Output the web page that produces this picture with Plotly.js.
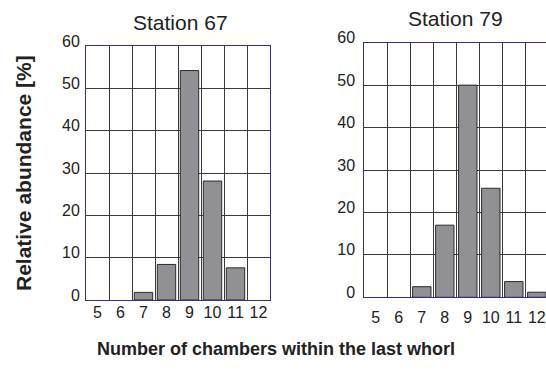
<!DOCTYPE html>
<html>
<head>
<meta charset="utf-8">
<script src="https://cdn.plot.ly/plotly-3.0.1.min.js"></script>
<style>html,body{margin:0;padding:0;background:#fff;}#chart{width:546px;height:374px;}</style>
</head>
<body>
<div id="chart"></div>
<script>
// Data
var chambers = [5, 6, 7, 8, 9, 10, 11, 12];
var station67 = [0, 0, 1.8, 8.4, 54.2, 28.1, 7.6, 0];
var station79 = [0, 0, 2.5, 17.0, 50.0, 25.7, 3.7, 1.2];
var yTicks = [0, 10, 20, 30, 40, 50, 60];
var panelTitles = ["Station 67", "Station 79"];
var yTitle = "Relative abundance [%]";
var xTitle = "Number of chambers within the last whorl";

var W = 546, H = 374;
var FONT = "Liberation Sans, Arial, Helvetica, sans-serif";
var frameColor = "#2e3192";
var gridColor = "#3a3a3a";
var barColor = "#909095";

function px(x) { return x / W; }
function py(y) { return (H - y) / H; }

function barStyle(vals) {
  return {color: barColor, line: {color: "#2a2a2a", width: vals.map(function (v) { return v > 0 ? 1 : 0; })}};
}

var traces = [
  {type: "bar", x: chambers, y: station67, width: 0.8, marker: barStyle(station67), xaxis: "x", yaxis: "y", hoverinfo: "x+y"},
  {type: "bar", x: chambers, y: station79, width: 0.8, marker: barStyle(station79), xaxis: "x2", yaxis: "y2", hoverinfo: "x+y"}
];

function xAxis(domain, range, standoff) {
  return {
    domain: domain, range: range, tickvals: chambers, ticktext: chambers.map(String),
    showgrid: false, zeroline: false, ticks: "", ticklabelstandoff: standoff,
    showline: true, mirror: true, linecolor: frameColor, linewidth: 1,
    tickfont: {family: FONT, size: 16, color: "#222"},
    minor: {tick0: 4.5, dtick: 1, showgrid: true, gridcolor: gridColor, gridwidth: 1, ticks: ""},
    fixedrange: true
  };
}
function yAxis(domain, anchor, standoff) {
  return {
    domain: domain, anchor: anchor, range: [0, 60], tickvals: yTicks,
    showgrid: true, gridcolor: gridColor, gridwidth: 1, zeroline: false, ticks: "",
    showline: true, mirror: true, linecolor: frameColor, linewidth: 1,
    ticklabelstandoff: standoff, ticklabelshift: -5,
    tickfont: {family: FONT, size: 16, color: "#222"},
    fixedrange: true
  };
}

var xa1 = xAxis([px(86), px(270)], [4.5, 12.5], -2); xa1.anchor = "y";
var xa2 = xAxis([px(364.3), 1], [4.5, 12.4], 5); xa2.anchor = "y2";

var layout = {
  width: W, height: H,
  margin: {l: 0, r: 0, t: 0, b: 0},
  paper_bgcolor: "#fff", plot_bgcolor: "#fff",
  showlegend: false, bargap: 0,
  font: {family: FONT, color: "#222"},
  xaxis: xa1,
  yaxis: yAxis([py(300), py(46)], "x", 2),
  xaxis2: xa2,
  yaxis2: yAxis([py(297.3), py(42.7)], "x2", 5),
  annotations: [
    {text: panelTitles[0], x: px(180), y: py(22.5), xref: "paper", yref: "paper", xanchor: "center", yanchor: "middle", showarrow: false, font: {family: FONT, size: 21, color: "#222"}},
    {text: panelTitles[1], x: px(455.5), y: py(18.5), xref: "paper", yref: "paper", xanchor: "center", yanchor: "middle", showarrow: false, font: {family: FONT, size: 21, color: "#222"}},
    {text: yTitle, x: px(24), y: py(173), xref: "paper", yref: "paper", xanchor: "center", yanchor: "middle", textangle: -90, showarrow: false, font: {family: FONT, size: 21, color: "#222", weight: "bold"}},
    {text: xTitle, x: px(276), y: py(349), xref: "paper", yref: "paper", xanchor: "center", yanchor: "middle", showarrow: false, font: {family: FONT, size: 18, color: "#222", weight: "bold"}}
  ]
};

Plotly.newPlot("chart", traces, layout, {displayModeBar: false, staticPlot: true});
</script>
</body>
</html>
